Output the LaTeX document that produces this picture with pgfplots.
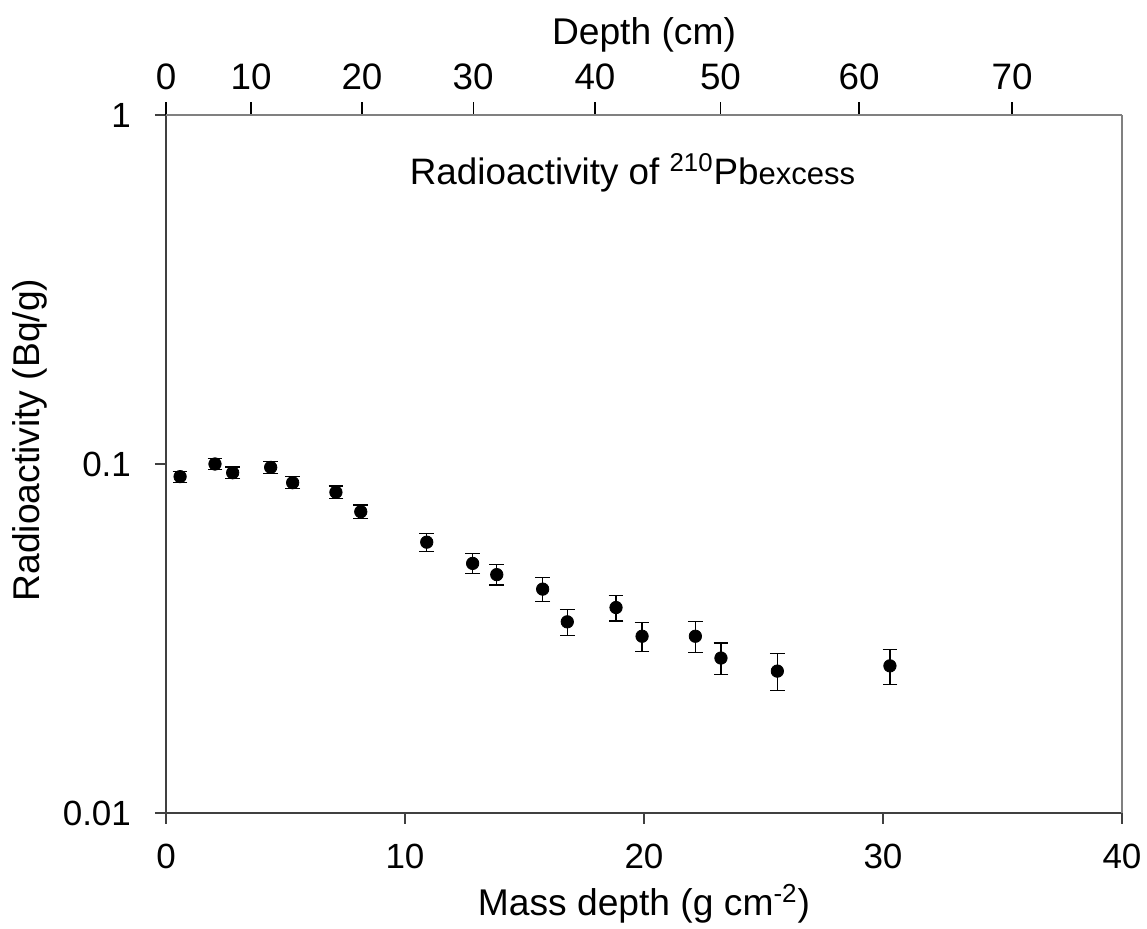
\documentclass[border=0pt]{standalone}
\usepackage{fontspec}
\setmainfont{Liberation Sans}
\usepackage{pgfplots}
\pgfplotsset{compat=1.18}
\definecolor{axdark}{gray}{0.25}
\definecolor{axlight}{gray}{0.5}
\begin{document}
\fontsize{17.5}{21}\selectfont
\begin{tikzpicture}
% main axis: mass depth vs activity
\begin{axis}[
    width=478pt, height=349pt, scale only axis,
    xmin=0, xmax=40,
    ymode=log, ymin=0.01, ymax=1,
    axis x line*=bottom, axis y line*=left,
    axis line style={axdark, line width=0.9pt},
    tick align=outside, major tick length=5.5pt, minor tick length=0pt,
    tick style={axdark, line width=0.6pt},
    xtick={0,10,20,30,40},
    ytick={0.01,0.1,1}, yticklabels={0.01,0.1,1},
    /pgf/number format/assume math mode=true,
    xticklabel style={yshift=-4pt},
    yticklabel style={xshift=-6pt},
    xlabel={Mass depth (g cm\textsuperscript{-2})},
    ylabel={Radioactivity (Bq/g)},
    label style={font=\fontsize{18.6}{22}\selectfont},
    xlabel style={yshift=4pt},
    ylabel style={yshift=-4pt, xshift=12pt},
]
\coordinate (sw) at (rel axis cs:0,0);
\addplot[only marks, mark=*, mark size=3.1pt, black,
    error bars/.cd, y dir=both, y explicit,
    error bar style={black, line width=0.6pt},
    error mark options={rotate=90, mark size=3.7pt, black, line width=0.6pt}]
coordinates {
    (0.59,0.0920)  +- (0,0.0034)
    (2.05,0.1000)  +- (0,0.0037)
    (2.79,0.0944)  +- (0,0.0036)
    (4.38,0.0978)  +- (0,0.0037)
    (5.30,0.0884)  +- (0,0.0035)
    (7.11,0.0830)  +- (0,0.0035)
    (8.15,0.0730)  +- (0,0.0033)
    (10.91,0.0597) +- (0,0.0035)
    (12.83,0.0519) +- (0,0.0034)
    (13.84,0.0482) +- (0,0.0032)
    (15.76,0.0438) +- (0,0.0035)
    (16.79,0.0353) +- (0,0.0030)
    (18.83,0.0388) +- (0,0.0033)
    (19.92,0.0321) +- (0,0.0030)
    (22.15,0.0321) +- (0,0.0033)
    (23.22,0.0278) +- (0,0.0029)
    (25.58,0.0255) +- (0,0.0031)
    (30.29,0.0264) +- (0,0.0030)
};
\node[font=\fontsize{18.4}{22}\selectfont] at (rel axis cs:0.488,0.917)
    {Radioactivity of \textsuperscript{210}Pb{\fontsize{15.5}{18}\selectfont excess}};
\end{axis}
% top axis: depth in cm, ticks placed at matching mass depth
\begin{axis}[
    width=478pt, height=349pt, scale only axis,
    xmin=0, xmax=40,
    ymode=log, ymin=0.01, ymax=1,
    axis x line*=top, axis y line*=right,
    axis line style={axlight, line width=0.9pt},
    tick align=outside, major tick length=6.5pt, minor tick length=0pt,
    tick style={black, line width=0.6pt},
    xtick={0,3.56,8.2,12.85,17.95,23.2,29.0,35.4},
    xticklabels={0,10,20,30,40,50,60,70},
    xticklabel style={font=\fontsize{18.4}{22}\selectfont},
    ytick=\empty,
    xlabel={Depth (cm)},
    label style={font=\fontsize{18.6}{22}\selectfont},
    xlabel style={yshift=-6pt},
]
\end{axis}
\pgfresetboundingbox
\path (sw) ++(-83pt,-58pt) rectangle ++(573.5pt,464.5pt);
\end{tikzpicture}
\end{document}
